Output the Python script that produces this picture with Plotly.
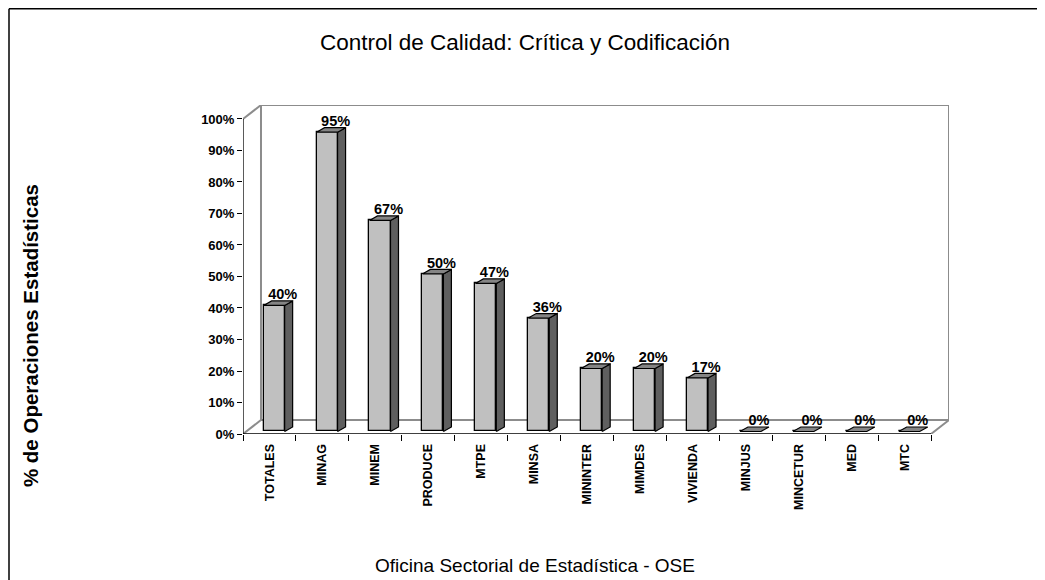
import plotly.graph_objects as go

categories = ["TOTALES", "MINAG", "MINEM", "PRODUCE", "MTPE", "MINSA", "MININTER",
              "MIMDES", "VIVIENDA", "MINJUS", "MINCETUR", "MED", "MTC"]
values = [40, 95, 67, 50, 47, 36, 20, 20, 17, 0, 0, 0, 0]
labels = ["40%", "95%", "67%", "50%", "47%", "36%", "20%", "20%", "17%", "0%", "0%", "0%", "0%"]
y_ticks = list(range(0, 101, 10))

# page body has an 8px margin; lay the figure out in page coordinates minus that offset
OFF = 8
W, H = 1045 - OFF, 580 - OFF
ML, MR, MT, MB = 242.7 - OFF, 96.3, 105 - OFF, 145.7
n = len(categories)
wall_dx = 0.34      # depth offset of back wall (category units)
wall_dy = 4.44      # depth offset of back wall (%)
bar_l, bar_r = -0.11, 0.287
bar_base = 0.8
ddx, ddy = 0.151, 1.43

xs = list(range(n))
front_fill = "#C0C0C0"
side_fill = "#5F5F5F"
top_fill = "#858585"

fig = go.Figure()

# front faces
fig.add_trace(go.Bar(
    x=xs, y=values, base=bar_base, offset=bar_l, width=bar_r - bar_l,
    marker=dict(color=front_fill, line=dict(color="black", width=1.3)),
    hoverinfo="skip", showlegend=False))

# side faces
sx, sy = [], []
for i, v in enumerate(values):
    if v <= 0:
        continue
    R = i + bar_r
    top = v + bar_base
    sx += [R, R + ddx, R + ddx, R, R, None]
    sy += [bar_base, bar_base + ddy, top + ddy, top, bar_base, None]
fig.add_trace(go.Scatter(x=sx, y=sy, mode="lines", fill="toself", fillcolor=side_fill,
                         line=dict(color="black", width=1.2), hoverinfo="skip", showlegend=False))

# top faces
tx, ty = [], []
for i, v in enumerate(values):
    L, R = i + bar_l, i + bar_r
    top = v + bar_base
    tx += [L, R, R + ddx, L + ddx, L, None]
    ty += [top, top, top + ddy, top + ddy, top, None]
fig.add_trace(go.Scatter(x=tx, y=ty, mode="lines", fill="toself", fillcolor=top_fill,
                         line=dict(color="black", width=1.2), hoverinfo="skip", showlegend=False))

# value labels
fig.add_trace(go.Scatter(
    x=[i + 0.25 for i in xs], y=[v + bar_base + 0.8 for v in values],
    mode="text", text=labels, textposition="top center",
    textfont=dict(family="Arial, Liberation Sans", size=14.5, color="black", weight="bold"),
    hoverinfo="skip", showlegend=False))

gray = "#8C8C8C"
x0, x1 = -0.5, n - 0.5
shapes = [
    # back wall
    dict(type="line", x0=x0 + wall_dx, x1=x1 + wall_dx, y0=100 + wall_dy, y1=100 + wall_dy),
    dict(type="line", x0=x0 + wall_dx, x1=x0 + wall_dx, y0=wall_dy, y1=100 + wall_dy),
    dict(type="line", x0=x1 + wall_dx, x1=x1 + wall_dx, y0=wall_dy, y1=100 + wall_dy),
    dict(type="line", x0=x0 + wall_dx, x1=x1 + wall_dx, y0=wall_dy, y1=wall_dy),
    # depth diagonals
    dict(type="line", x0=x0, x1=x0 + wall_dx, y0=100, y1=100 + wall_dy),
    dict(type="line", x0=x0, x1=x0 + wall_dx, y0=0, y1=wall_dy),
    dict(type="line", x0=x1, x1=x1 + wall_dx, y0=0, y1=wall_dy),
]
for s in shapes:
    s.update(xref="x", yref="y", line=dict(color=gray, width=2), layer="below")
# front axes
shapes += [
    dict(type="line", xref="x", yref="y", x0=x0, x1=x0, y0=0, y1=100,
         line=dict(color="black", width=1.3)),
    dict(type="line", xref="x", yref="y", x0=x0, x1=x1, y0=0, y1=0,
         line=dict(color="black", width=1.3)),
]
# outer frame (left and top); p is the page pixel coordinate
pw, ph = W - ML - MR, H - MT - MB
def px_x(p): return (p - OFF - ML) / pw
def px_y(p): return (H - MB - (p - OFF)) / ph
shapes += [
    dict(type="line", xref="paper", yref="paper", x0=px_x(8.7), x1=px_x(8.7), y0=px_y(8.7), y1=px_y(600),
         line=dict(color="black", width=1.5)),
    dict(type="line", xref="paper", yref="paper", x0=px_x(8.7), x1=px_x(1080), y0=px_y(8.7), y1=px_y(8.7),
         line=dict(color="black", width=1.5)),
]

fig.update_layout(
    width=W, height=H,
    margin=dict(l=ML, r=MR, t=MT, b=MB, pad=0),
    paper_bgcolor="white", plot_bgcolor="white",
    font=dict(family="Arial, Liberation Sans", color="black"),
    title=dict(text="Control de Calidad: Crítica y Codificación", x=(525 - OFF) / W, xanchor="center",
               y=1 - (42 - OFF) / H, yanchor="middle", yref="container",
               font=dict(size=22.5, color="black")),
    shapes=shapes,
    showlegend=False,
    bargap=0,
)
fig.update_xaxes(
    range=[x0, x1 + wall_dx], tickmode="array", tickvals=xs, ticktext=categories,
    tickangle=-90, tickfont=dict(size=12.5, weight="bold"),
    ticks="outside", ticklen=4, tickcolor="rgba(0,0,0,0)",
    showline=False, showgrid=False, zeroline=False, fixedrange=True,
    minor=dict(tickmode="linear", tick0=-0.5, dtick=1, ticks="outside", ticklen=6,
               tickcolor="black", tickwidth=1, showgrid=False),
)
fig.update_yaxes(
    range=[0, 100 + wall_dy], tickmode="array", tickvals=y_ticks,
    ticktext=[f"{t}%" for t in y_ticks], tickfont=dict(size=13, weight="bold"),
    ticks="outside", ticklen=5, tickcolor="black", tickwidth=1,
    showline=False, showgrid=False, zeroline=False, fixedrange=True,
)

fig.add_annotation(text="% de Operaciones Estadísticas", xref="paper", yref="paper",
                   x=px_x(30), y=px_y(336), textangle=-90, showarrow=False,
                   xanchor="center", yanchor="middle",
                   font=dict(size=20.5, weight="bold", color="black"))
fig.add_annotation(text="Oficina Sectorial de Estadística - OSE", xref="paper", yref="paper",
                   x=px_x(535), y=px_y(566), showarrow=False,
                   xanchor="center", yanchor="middle",
                   font=dict(size=19, color="black"))

fig.write_html("out.html")
